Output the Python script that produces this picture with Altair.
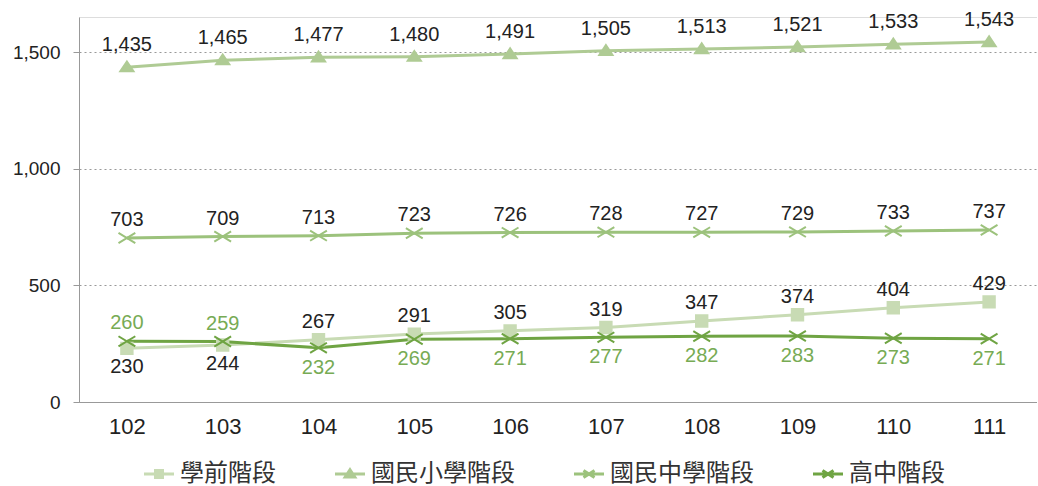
import altair as alt
import pandas as pd

years = ["102", "103", "104", "105", "106", "107", "108", "109", "110", "111"]
series_names = ["學前階段", "國民小學階段", "國民中學階段", "高中階段"]
preschool = [230, 244, 267, 291, 305, 319, 347, 374, 404, 429]
elementary = [1435, 1465, 1477, 1480, 1491, 1505, 1513, 1521, 1533, 1543]
junior = [703, 709, 713, 723, 726, 728, 727, 729, 733, 737]
senior = [260, 259, 232, 269, 271, 277, 282, 283, 273, 271]

colors = ["#c8dbb4", "#afcb94", "#9cc27c", "#6fa443"]

# marker paths for the plot
sq = "M-0.95,-0.95H0.95V0.95H-0.95Z"
tri = "M0,-0.95L1.1,0.7H-1.1Z"
cross = "M-1.4,-0.85L1.4,0.85M-1.4,0.85L1.4,-0.85"
shapes = [sq, tri, cross, cross]

# legend symbol paths (line segment + marker)
lg_sq = "M-3,0H3M-0.7,-0.7H0.7V0.7H-0.7Z"
lg_tri = "M-3,0H3M0,-0.85L0.95,0.6H-0.95Z"
lg_cross = "M-3,0H3M-1.1,-0.7L1.1,0.7M-1.1,0.7L1.1,-0.7"
lg_shapes = [lg_sq, lg_tri, lg_cross, lg_cross]

rows = []
for name, vals in zip(series_names, [preschool, elementary, junior, senior]):
    for y, v in zip(years, vals):
        rows.append({"year": y, "series": name, "value": v})
df = pd.DataFrame(rows)

# label placement: for the two low series, the larger value goes above
pivot = df.pivot(index="year", columns="series", values="value")
def place(r):
    if r["series"] == "學前階段":
        return "up" if r["value"] >= pivot.loc[r["year"], "高中階段"] else "down"
    if r["series"] == "高中階段":
        return "up" if r["value"] > pivot.loc[r["year"], "學前階段"] else "down"
    return "up"
df["pos"] = df.apply(place, axis=1)
df["lab"] = df["value"].map(lambda v: f"{v:,}")

xenc = alt.X("year:O", scale=alt.Scale(type="point", padding=0.5),
             axis=alt.Axis(title=None, labelAngle=0, ticks=False, labelFontSize=22,
                           labelColor="#222", labelPadding=14, domainColor="#999",
                           labelFont="Liberation Sans"))
yenc = alt.Y("value:Q", scale=alt.Scale(domain=[0, 1650], nice=False),
             axis=alt.Axis(title=None, values=[0, 500, 1000, 1500], format=",d",
                           labelFontSize=19, labelColor="#222", tickColor="#999",
                           tickSize=6, labelPadding=13, domainColor="#999",
                           gridColor="#999", gridDash=[2, 3], labelFont="Liberation Sans"))

base = alt.Chart(df)
cscale = alt.Scale(domain=series_names, range=colors)

lines = base.mark_line(strokeWidth=3).encode(
    x=xenc, y=yenc,
    color=alt.Color("series:N", scale=cscale, legend=None),
)

points = base.mark_point(filled=True, size=144, strokeWidth=2, opacity=1).encode(
    x=xenc, y=yenc,
    fill=alt.Fill("series:N", scale=cscale, legend=None),
    stroke=alt.Stroke("series:N", scale=cscale, legend=None),
    shape=alt.Shape("series:N", scale=alt.Scale(domain=series_names, range=shapes), legend=None),
)

legend_def = alt.Legend(title=None, orient="none", direction="horizontal",
                        legendX=68, legendY=445, labelFontSize=24,
                        labelFont="Noto Sans CJK TC", labelColor="#333", labelLimit=400,
                        symbolSize=100, symbolStrokeWidth=3, symbolOpacity=1,
                        labelOffset=9, columnPadding=53)

legend_layer = base.transform_filter("false").mark_point(
    filled=True, size=100, strokeWidth=3, opacity=1).encode(
    x=xenc, y=yenc,
    fill=alt.Fill("series:N", scale=cscale, sort=series_names, legend=legend_def),
    stroke=alt.Stroke("series:N", scale=cscale, sort=series_names, legend=legend_def),
    shape=alt.Shape("series:N", scale=alt.Scale(domain=series_names, range=lg_shapes),
                    sort=series_names, legend=legend_def),
)

def text_layer(cond, dy, color_val):
    return base.transform_filter(cond).mark_text(
        dy=dy, fontSize=20, font="Liberation Sans").encode(
        x=xenc, y=yenc, text="lab:N", color=color_val)

black = alt.value("#222")
green = alt.value("#77ab54")
t1 = text_layer("datum.series == '國民小學階段'", -22, black)
t2 = text_layer("datum.series == '國民中學階段'", -18, black)
t3 = text_layer("datum.series == '學前階段' && datum.pos == 'up'", -18, black)
t4 = text_layer("datum.series == '學前階段' && datum.pos == 'down'", 19, black)
t5 = text_layer("datum.series == '高中階段' && datum.pos == 'up'", -18, green)
t6 = text_layer("datum.series == '高中階段' && datum.pos == 'down'", 20, green)

chart = alt.layer(lines, points, legend_layer, t1, t2, t3, t4, t5, t6).resolve_scale(
    shape="independent", fill="independent", stroke="independent"
).properties(
    width=958, height=385,
    autosize=alt.AutoSizeParams(type="none"),
    padding={"left": 79, "top": 17, "right": 0, "bottom": 84},
).configure_view(stroke=None).configure(background="white")

chart.save("out.html", embed_options={"renderer": "svg", "actions": False})
